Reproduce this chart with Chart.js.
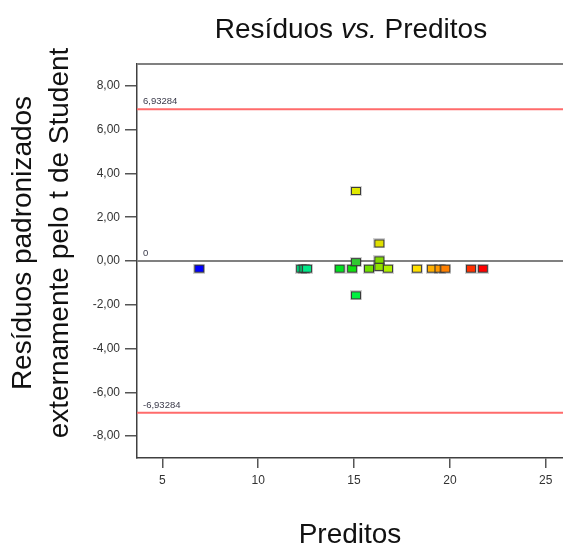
<!DOCTYPE html>
<html>
<head>
<meta charset="utf-8">
<script src="https://cdn.jsdelivr.net/npm/chart.js@4/dist/chart.umd.min.js"></script>
<style>
  html, body { margin: 0; background: #fff; overflow: hidden; }
  #wrap { width: 570px; height: 549px; position: relative; }
  #wrap canvas { display: block; }
</style>
</head>
<body>
<div id="wrap"><canvas id="residChart"></canvas></div>
<script>
// dados
const preditos = [6.93, 12.24, 12.41, 12.55, 14.25, 14.9, 15.1, 15.1, 15.1, 15.78,
                  16.32, 16.32, 16.32, 16.77, 18.28, 19.06, 19.46, 19.76, 21.1, 21.72];
const residuos = [-0.35, -0.35, -0.35, -0.35, -0.35, -0.35, -0.05, 3.2, -1.57, -0.35,
                  0.8, 0.03, -0.27, -0.35, -0.35, -0.35, -0.35, -0.35, -0.35, -0.35];
const cores = ["#0000ff", "#00e080", "#00e080", "#00e888", "#00e020", "#10e010", "#30c830", "#e0e800", "#00f040", "#70e000",
               "#e0e000", "#80d800", "#90e000", "#b0f000", "#ffe000", "#ffb000", "#ff9900", "#ff8000", "#ff3000", "#ff0000"];

const xTicks = [5, 10, 15, 20, 25];
const yTicks = [-8, -6, -4, -2, 0, 2, 4, 6, 8];
const yTickLabels = ["-8,00", "-6,00", "-4,00", "-2,00", "0,00", "2,00", "4,00", "6,00", "8,00"];

const limites = [6.93284, 0, -6.93284];
const limiteLabels = ["6,93284", "0", "-6,93284"];

const tituloY = ["Resíduos padronizados", "externamente pelo t de Student"];

const FONT = '"Liberation Sans", Arial, sans-serif';

/* quadradinhos dos pontos */
function quadrado(cor) {
  const c = document.createElement("canvas");
  c.width = 12; c.height = 10;
  const g = c.getContext("2d");
  g.fillStyle = "rgba(0,0,0,0.18)";
  g.fillRect(0, 0, 12, 10);
  g.fillStyle = "#3a3a3a";
  g.fillRect(1, 1, 10, 8);
  g.fillStyle = cor;
  g.fillRect(2, 2, 8, 6);
  return c;
}
const imgs = cores.map(quadrado);

/* linhas de referência, borda superior e títulos */
const extras = {
  id: "extras",
  beforeDatasetsDraw(chart) {
    const { ctx, chartArea: a, scales: { y } } = chart;
    ctx.save();
    ctx.strokeStyle = "#808080";
    ctx.lineWidth = 2;
    ctx.beginPath();
    ctx.moveTo(a.left, a.top);
    ctx.lineTo(a.right, a.top);
    ctx.stroke();

    limites.forEach((v, i) => {
      const py = y.getPixelForValue(v);
      ctx.strokeStyle = v === 0 ? "#808080" : "#ff6b6b";
      ctx.lineWidth = 2;
      ctx.beginPath();
      ctx.moveTo(a.left, py);
      ctx.lineTo(a.right, py);
      ctx.stroke();
      ctx.fillStyle = "#3a3a4a";
      ctx.font = "9.5px " + FONT;
      ctx.textAlign = "left";
      ctx.textBaseline = "bottom";
      ctx.fillText(limiteLabels[i], a.left + 6, py - 3);
    });
    ctx.restore();
  },
  afterDraw(chart) {
    const { ctx } = chart;
    const partes = [["Resíduos ", ""], ["vs.", "italic "], [" Preditos", ""]];
    ctx.save();
    ctx.fillStyle = "#111";
    ctx.textBaseline = "alphabetic";
    ctx.textAlign = "left";
    let total = 0;
    partes.forEach(p => { ctx.font = p[1] + "28px " + FONT; total += ctx.measureText(p[0]).width; });
    let x = 351 - total / 2;
    partes.forEach(p => {
      ctx.font = p[1] + "28px " + FONT;
      ctx.fillText(p[0], x, 38);
      x += ctx.measureText(p[0]).width;
    });

    // título do eixo y, duas linhas giradas
    ctx.translate(0, 243);
    ctx.rotate(-Math.PI / 2);
    ctx.font = "28px " + FONT;
    ctx.textAlign = "center";
    ctx.textBaseline = "middle";
    tituloY.forEach((t, i) => ctx.fillText(t, 0, 23 + i * 37));
    ctx.restore();
  }
};

new Chart(document.getElementById("residChart"), {
  type: "scatter",
  data: {
    datasets: [{
      data: preditos.map((p, i) => ({ x: p, y: residuos[i] })),
      pointStyle: ctx => imgs[ctx.dataIndex],
      pointRadius: 6
    }]
  },
  options: {
    responsive: true,
    maintainAspectRatio: false,
    animation: false,
    events: [],
    layout: { padding: { top: 64, left: 0, right: 0, bottom: 0 } },
    plugins: { legend: { display: false }, tooltip: { enabled: false } },
    scales: {
      x: {
        type: "linear",
        min: 3.68,
        max: 25.9,
        afterBuildTicks: s => { s.ticks = xTicks.map(v => ({ value: v })); },
        afterFit: s => { s.height = 91; },
        border: { display: true, color: "#404040", width: 1.5 },
        grid: { drawOnChartArea: false, color: "#555", lineWidth: 1.5, tickLength: 10 },
        ticks: { color: "#333", font: { family: FONT, size: 12 }, padding: 5, maxRotation: 0 },
        title: { display: true, text: "Preditos", color: "#111", font: { family: FONT, size: 28 }, padding: { top: 0, bottom: -3 } }
      },
      y: {
        min: -9,
        max: 9,
        afterBuildTicks: s => { s.ticks = yTicks.map(v => ({ value: v })); },
        afterFit: s => { s.width = 137; },
        border: { display: true, color: "#404040", width: 1.5 },
        grid: { drawOnChartArea: false, color: "#555", lineWidth: 1.5, tickLength: 12 },
        ticks: {
          color: "#333",
          font: { family: FONT, size: 12 },
          padding: 5,
          callback: v => yTickLabels[yTicks.indexOf(v)]
        },
        title: { display: false }
      }
    }
  },
  plugins: [extras]
});
</script>
</body>
</html>
